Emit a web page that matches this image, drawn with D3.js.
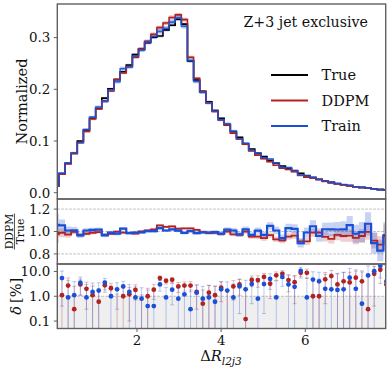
<!DOCTYPE html>
<html><head><meta charset="utf-8">
<script src="https://cdn.jsdelivr.net/npm/d3@7/dist/d3.min.js"></script>
<style>body{margin:0;background:#fff}svg{display:block}text{font-family:"DejaVu Serif",serif;fill:#111}</style>
</head><body><svg id="c" width="390" height="373"></svg>
<script>
// ---- data ----
const binLo = 0, binHi = 8, nBins = 55;
const trueVals = [0.013,0.036,0.057,0.076,0.100,0.121,0.144,0.163,0.183,0.201,0.219,0.234,0.247,0.267,0.278,0.290,0.301,0.303,0.315,0.324,0.3355,0.326,0.255,0.218,0.196,0.176,0.159,0.144,0.131,0.118,0.107,0.094,0.0846,0.076,0.0697,0.062,0.057,0.0517,0.047,0.042,0.0375,0.033,0.029,0.026,0.0226,0.020,0.0175,0.0155,0.0136,0.0116,0.0103,0.009,0.0077,0.0064,0.0052];
const ddpmRatio = [0.975,0.989,0.973,0.997,0.97,0.98,0.989,0.994,0.9725,0.979,0.9997,0.99,0.988,0.982,1.0003,1.01,1.0185,1.054,1.042,1.046,1.025,1.027,1.027,1.015,0.995,0.986,0.989,0.978,0.9996,0.975,0.97,0.9988,0.955,0.955,0.94,0.968,0.93,0.92,0.955,0.963,0.912,0.912,0.99,0.99,0.952,0.935,0.97,0.96,0.964,0.944,0.96,0.997,0.919,0.883,0.97];
const trainRatio = [1.06,1.054,1.009,1.011,0.965,1.009,1.015,1.017,0.965,0.99,0.981,1.025,0.985,0.991,0.992,1.004,1.004,1.03,1.009,1.0185,1.008,0.988,1.003,0.986,0.992,0.991,0.994,0.981,1.017,1.009,0.975,1.019,0.969,1.008,0.969,1.05,1.009,0.94,1.03,1.024,0.895,0.991,1.047,0.96,1.02,1.019,1.018,1.019,1.056,0.98,0.995,1.069,0.897,0.83,0.96];
const trueErr = [0.06,0.03,0.022,0.018,0.015,0.013,0.012,0.011,0.011,0.01,0.01,0.01,0.01,0.01,0.01,0.01,0.01,0.01,0.01,0.01,0.01,0.01,0.011,0.011,0.012,0.013,0.014,0.015,0.016,0.017,0.018,0.019,0.02,0.021,0.022,0.023,0.025,0.027,0.029,0.031,0.033,0.035,0.037,0.039,0.042,0.045,0.048,0.052,0.056,0.06,0.065,0.07,0.076,0.083,0.095];
const ddpmErr = [0.08,0.04,0.028,0.022,0.019,0.017,0.015,0.014,0.013,0.012,0.012,0.012,0.011,0.011,0.011,0.011,0.011,0.011,0.011,0.011,0.011,0.011,0.012,0.012,0.013,0.014,0.015,0.016,0.017,0.018,0.019,0.02,0.021,0.022,0.023,0.024,0.026,0.028,0.03,0.032,0.034,0.036,0.038,0.04,0.043,0.046,0.049,0.053,0.057,0.061,0.066,0.071,0.077,0.084,0.095];
const trainErr = [0.09,0.05,0.035,0.028,0.024,0.021,0.019,0.018,0.017,0.016,0.016,0.015,0.015,0.015,0.014,0.014,0.014,0.014,0.014,0.014,0.014,0.014,0.015,0.016,0.017,0.018,0.019,0.02,0.021,0.022,0.023,0.025,0.026,0.028,0.029,0.031,0.033,0.035,0.037,0.04,0.043,0.046,0.05,0.053,0.057,0.061,0.066,0.071,0.077,0.083,0.09,0.097,0.105,0.115,0.13];
const topTicks = [0.0, 0.1, 0.2, 0.3];
const ratioTicks = [0.8, 1.0, 1.2];
const deltaTicks = [0.1, 1, 10];
const xTicks = [2, 4, 6];
const seriesNames = ["True", "DDPM", "Train"];
const annotation = "Z+3 jet exclusive";

// ---- setup ----
const col = {True: "#000000", DDPM: "#b22222", Train: "#1a50d8"};
const svg = d3.select("#c");
const L = 57.3, R = 385.7;
const P1 = [4, 199], P2 = [199, 264], P3 = [264, 328.5];
const x = d3.scaleLinear().domain([0.107, 7.91]).range([L, R]);
const yTop = d3.scaleLinear().domain([-0.0122, 0.365]).range([P1[1], P1[0]]);
const yRat = d3.scaleLinear().domain([0.71, 1.29]).range([P2[1], P2[0]]);
const yDel = d3.scaleLog().domain([0.05, 20]).range([P3[1], P3[0]]);

const edges = d3.range(nBins + 1).map(i => binLo + i * (binHi - binLo) / nBins);
const centers = d3.range(nBins).map(i => (edges[i] + edges[i + 1]) / 2);
const ddpmVals = trueVals.map((v, i) => v * ddpmRatio[i]);
const trainVals = trueVals.map((v, i) => v * trainRatio[i]);

const defs = svg.append("defs");
[["c1", P1], ["c2", P2], ["c3", P3]].forEach(([id, p]) => {
  defs.append("clipPath").attr("id", id).append("rect")
    .attr("x", L).attr("y", p[0]).attr("width", R - L).attr("height", p[1] - p[0]);
});

function stepPts(vals) { return edges.map((e, i) => [e, vals[Math.min(i, nBins - 1)]]); }
function stepBand(vals, errs) { return edges.map((e, i) => { const k = Math.min(i, nBins - 1); return [e, vals[k] * (1 - errs[k]), vals[k] * (1 + errs[k])]; }); }

// ---- top panel ----
const g1 = svg.append("g").attr("clip-path", "url(#c1)");
const areaTop = d3.area().x(d => x(d[0])).y0(d => yTop(d[1])).y1(d => yTop(d[2])).curve(d3.curveStepAfter);
const lineTop = d3.line().x(d => x(d[0])).y(d => yTop(d[1])).curve(d3.curveStepAfter);
const topSeries = [
  {name: "True", vals: trueVals, errs: trueErr, bandCol: "#888888", op: 0.45},
  {name: "DDPM", vals: ddpmVals, errs: ddpmErr, bandCol: col.DDPM, op: 0.35},
  {name: "Train", vals: trainVals, errs: trainErr, bandCol: col.Train, op: 0.35}
];
topSeries.forEach(s => g1.append("path").attr("d", areaTop(stepBand(s.vals, s.errs))).attr("fill", s.bandCol).attr("opacity", s.op));
topSeries.forEach(s => g1.append("path").attr("d", lineTop(stepPts(s.vals))).attr("fill", "none").attr("stroke", col[s.name]).attr("stroke-width", 1.6).attr("opacity", s.name === "Train" ? 0.85 : 1));

// ---- ratio panel ----
const g2 = svg.append("g");
ratioTicks.forEach(t => g2.append("line").attr("x1", L).attr("x2", R).attr("y1", yRat(t)).attr("y2", yRat(t))
  .attr("stroke", "#aaaaaa").attr("stroke-width", 0.8).attr("stroke-dasharray", "2.5,1.5"));
const g2c = svg.append("g").attr("clip-path", "url(#c2)");
const areaRat = d3.area().x(d => x(d[0])).y0(d => yRat(d[1])).y1(d => yRat(d[2])).curve(d3.curveStepAfter);
const lineRat = d3.line().x(d => x(d[0])).y(d => yRat(d[1])).curve(d3.curveStepAfter);
g2c.append("path").attr("d", areaRat(stepBand(ddpmRatio, ddpmErr))).attr("fill", col.DDPM).attr("opacity", 0.22);
g2c.append("path").attr("d", areaRat(stepBand(trainRatio, trainErr))).attr("fill", col.Train).attr("opacity", 0.25);
g2c.append("path").attr("d", lineRat(stepPts(ddpmRatio))).attr("fill", "none").attr("stroke", col.DDPM).attr("stroke-width", 1.8);
g2c.append("path").attr("d", lineRat(stepPts(trainRatio))).attr("fill", "none").attr("stroke", col.Train).attr("stroke-width", 2.2);

// ---- delta panel ----
const g3 = svg.append("g").attr("clip-path", "url(#c3)");
g3.append("rect").attr("x", L).attr("width", R - L).attr("y", yDel(1)).attr("height", P3[1] - yDel(1)).attr("fill", "#efefef");
g3.append("line").attr("x1", L).attr("x2", R).attr("y1", yDel(1)).attr("y2", yDel(1))
  .attr("stroke", "#aaaaaa").attr("stroke-width", 0.8).attr("stroke-dasharray", "2.5,1.5");
const deltaSeries = [
  {name: "DDPM", ratio: ddpmRatio, errs: ddpmErr},
  {name: "Train", ratio: trainRatio, errs: trainErr}
];
deltaSeries.forEach(s => {
  const c = col[s.name];
  d3.range(1, nBins).forEach(i => {
    const d = Math.abs(s.ratio[i] - 1) * 100, e = s.errs[i] * 100;
    const cx = x(centers[i]);
    const lo = d - e > 0.001 ? yDel(d - e) : P3[1] + 5;
    const hi = yDel(d + e);
    g3.append("line").attr("x1", cx).attr("x2", cx).attr("y1", lo).attr("y2", hi).attr("stroke", c).attr("stroke-width", 1).attr("opacity", 0.3);
    g3.append("line").attr("x1", cx - 2).attr("x2", cx + 2).attr("y1", hi).attr("y2", hi).attr("stroke", c).attr("stroke-width", 1).attr("opacity", 0.3);
    if (d - e > 0.001) g3.append("line").attr("x1", cx - 2).attr("x2", cx + 2).attr("y1", lo).attr("y2", lo).attr("stroke", c).attr("stroke-width", 1).attr("opacity", 0.3);
  });
});
deltaSeries.forEach(s => {
  d3.range(1, nBins).forEach(i => {
    const d = Math.abs(s.ratio[i] - 1) * 100;
    g3.append("circle").attr("cx", x(centers[i])).attr("cy", yDel(Math.max(d, 1e-4))).attr("r", 2.4).attr("fill", col[s.name]);
  });
});

// ---- frames & ticks ----
const frameCol = "#606060";
[P1, P2, P3].forEach(p => svg.append("rect").attr("x", L).attr("y", p[0]).attr("width", R - L).attr("height", p[1] - p[0])
  .attr("fill", "none").attr("stroke", frameCol).attr("stroke-width", 1.4));
function yTicks(scale, ticks, fmt) {
  ticks.forEach(t => {
    const yy = scale(t);
    svg.append("line").attr("x1", L - 3.5).attr("x2", L).attr("y1", yy).attr("y2", yy).attr("stroke", frameCol).attr("stroke-width", 1);
    svg.append("text").attr("x", L - 7).attr("y", yy).attr("dy", "0.36em").attr("text-anchor", "end").attr("font-size", 13.4).text(fmt(t));
  });
}
yTicks(yTop, topTicks, d3.format(".1f"));
yTicks(yRat, ratioTicks, d3.format(".1f"));
yTicks(yDel, deltaTicks, d3.format(".1f"));
xTicks.forEach(t => {
  const xx = x(t);
  svg.append("line").attr("x1", xx).attr("x2", xx).attr("y1", P3[1]).attr("y2", P3[1] + 3.5).attr("stroke", frameCol).attr("stroke-width", 1);
  svg.append("text").attr("x", xx).attr("y", P3[1] + 16).attr("text-anchor", "middle").attr("font-size", 13.4).text(t);
});

// ---- labels ----
svg.append("text").attr("transform", `translate(27,${(P1[0] + P1[1]) / 2}) rotate(-90)`).attr("text-anchor", "middle").attr("font-size", 14.6).text("Normalized");
const fr = svg.append("g").attr("transform", `translate(14.5,${yRat(1)}) rotate(-90)`);
fr.append("text").attr("x", 0).attr("y", -1.8).attr("text-anchor", "middle").attr("font-size", 10.8).text("DDPM");
fr.append("line").attr("x1", -18).attr("x2", 18).attr("y1", 0).attr("y2", 0).attr("stroke", "#111").attr("stroke-width", 0.7);
fr.append("text").attr("x", 0).attr("y", 9).attr("text-anchor", "middle").attr("font-size", 10.8).text("True");
const dl = svg.append("text").attr("transform", `translate(21,${yDel(1)}) rotate(-90)`).attr("text-anchor", "middle").attr("font-size", 14.6);
dl.append("tspan").attr("font-style", "italic").text("δ");
dl.append("tspan").text("\u2009[%]");
const xl = svg.append("text").attr("x", 221).attr("y", 361).attr("text-anchor", "middle").attr("font-size", 14.6);
xl.append("tspan").text("Δ");
xl.append("tspan").attr("font-style", "italic").text("R");
xl.append("tspan").attr("font-size", 10.5).attr("dy", 3.5).attr("font-style", "italic").text("l2j3");

// ---- annotation & legend ----
svg.append("text").attr("x", 368).attr("y", 27.3).attr("text-anchor", "end").attr("font-size", 14.2).text(annotation);
seriesNames.forEach((n, i) => {
  const yy = 75 + i * 25.5;
  svg.append("line").attr("x1", 271).attr("x2", 308).attr("y1", yy).attr("y2", yy).attr("stroke", col[n]).attr("stroke-width", 1.8);
  svg.append("text").attr("x", 321.5).attr("y", yy).attr("dy", "0.36em").attr("font-size", 14.5).text(n);
});
</script></body></html>
